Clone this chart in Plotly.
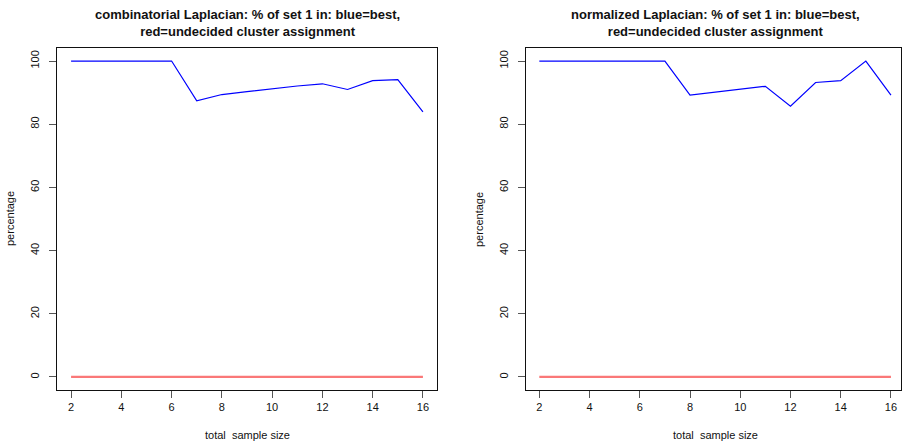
import plotly.graph_objects as go

sample_size = [2, 3, 4, 5, 6, 7, 8, 9, 10, 11, 12, 13, 14, 15, 16]
comb_best = [100, 100, 100, 100, 100, 87.4, 89.4, 90.3, 91.3, 92.1, 92.8, 91.0, 93.8, 94.1, 83.9]
comb_undecided = [0] * 15
norm_best = [100, 100, 100, 100, 100, 100, 89.2, 90.1, 91.1, 92.0, 85.7, 93.2, 93.8, 100, 89.2]
norm_undecided = [0] * 15
x_ticks = [2, 4, 6, 8, 10, 12, 14, 16]
y_ticks = [0, 20, 40, 60, 80, 100]
titles = ["combinatorial Laplacian: % of set 1 in: blue=best,<br>red=undecided cluster assignment",
          "normalized Laplacian: % of set 1 in: blue=best,<br>red=undecided cluster assignment"]
x_title = "total  sample size"
y_title = "percentage"

W, H = 902, 448
FONT = "Liberation Sans, Arial, Helvetica, sans-serif"

fig = go.Figure()
panels = [(comb_best, comb_undecided, "x", "y"), (norm_best, norm_undecided, "x2", "y2")]
for best, und, xa, ya in panels:
    fig.add_trace(go.Scatter(x=sample_size, y=und, mode="lines", xaxis=xa, yaxis=ya,
                             line=dict(color="rgb(250,120,120)", width=2.2), showlegend=False))
    fig.add_trace(go.Scatter(x=sample_size, y=best, mode="lines", xaxis=xa, yaxis=ya,
                             line=dict(color="rgb(0,0,255)", width=1.2), showlegend=False))

ydom = [(H - 389.6) / H, (H - 48.4) / H]
xdoms = [[57 / W, 437 / W], [526 / W, 901 / W]]
xranges = [[1.44, 16.56], [1.47, 16.40]]

common_x = dict(tickmode="array", tickvals=x_ticks, ticks="outside", ticklen=7, tickcolor="#555",
                showline=True, linecolor="#111", linewidth=1, mirror=True, showgrid=False,
                zeroline=False, tickfont=dict(family=FONT, size=11, color="#111"))
common_y = dict(tickmode="array", tickvals=y_ticks, ticks="outside", ticklen=7, tickcolor="#555",
                showline=True, linecolor="#111", linewidth=1, mirror=True, showgrid=False,
                zeroline=False, tickangle=-90, range=[-4, 104], domain=ydom,
                ticklabelstandoff=6,
                tickfont=dict(family=FONT, size=11, color="#111"))

fig.update_layout(
    width=W, height=H, margin=dict(l=0, r=0, t=0, b=0),
    paper_bgcolor="white", plot_bgcolor="white",
    xaxis=dict(domain=xdoms[0], range=xranges[0], anchor="y", **common_x),
    yaxis=dict(anchor="x", **common_y),
    xaxis2=dict(domain=xdoms[1], range=xranges[1], anchor="y2", **common_x),
    yaxis2=dict(anchor="x2", **common_y),
)

centers = [(57 + 437) / 2, (526 + 905) / 2]
ylab_x = [10, 479]
for i in range(2):
    fig.add_annotation(text="<b>" + titles[i].replace("<br>", "</b><br><b>") + "</b>",
                       x=centers[i] / W, y=1 - 23 / H, xref="paper", yref="paper",
                       showarrow=False, xanchor="center", yanchor="middle",
                       font=dict(family=FONT, size=13, color="#111"))
    fig.add_annotation(text=x_title, x=centers[i] / W, y=1 - 435 / H, xref="paper", yref="paper",
                       showarrow=False, xanchor="center", yanchor="middle",
                       font=dict(family=FONT, size=11, color="#111"))
    fig.add_annotation(text=y_title, x=ylab_x[i] / W, y=1 - 219 / H, xref="paper", yref="paper",
                       showarrow=False, xanchor="center", yanchor="middle", textangle=-90,
                       font=dict(family=FONT, size=11, color="#111"))

fig.write_html("out.html", config={"displayModeBar": False},
               post_script="document.body.style.margin='0';document.body.style.overflow='hidden';")
